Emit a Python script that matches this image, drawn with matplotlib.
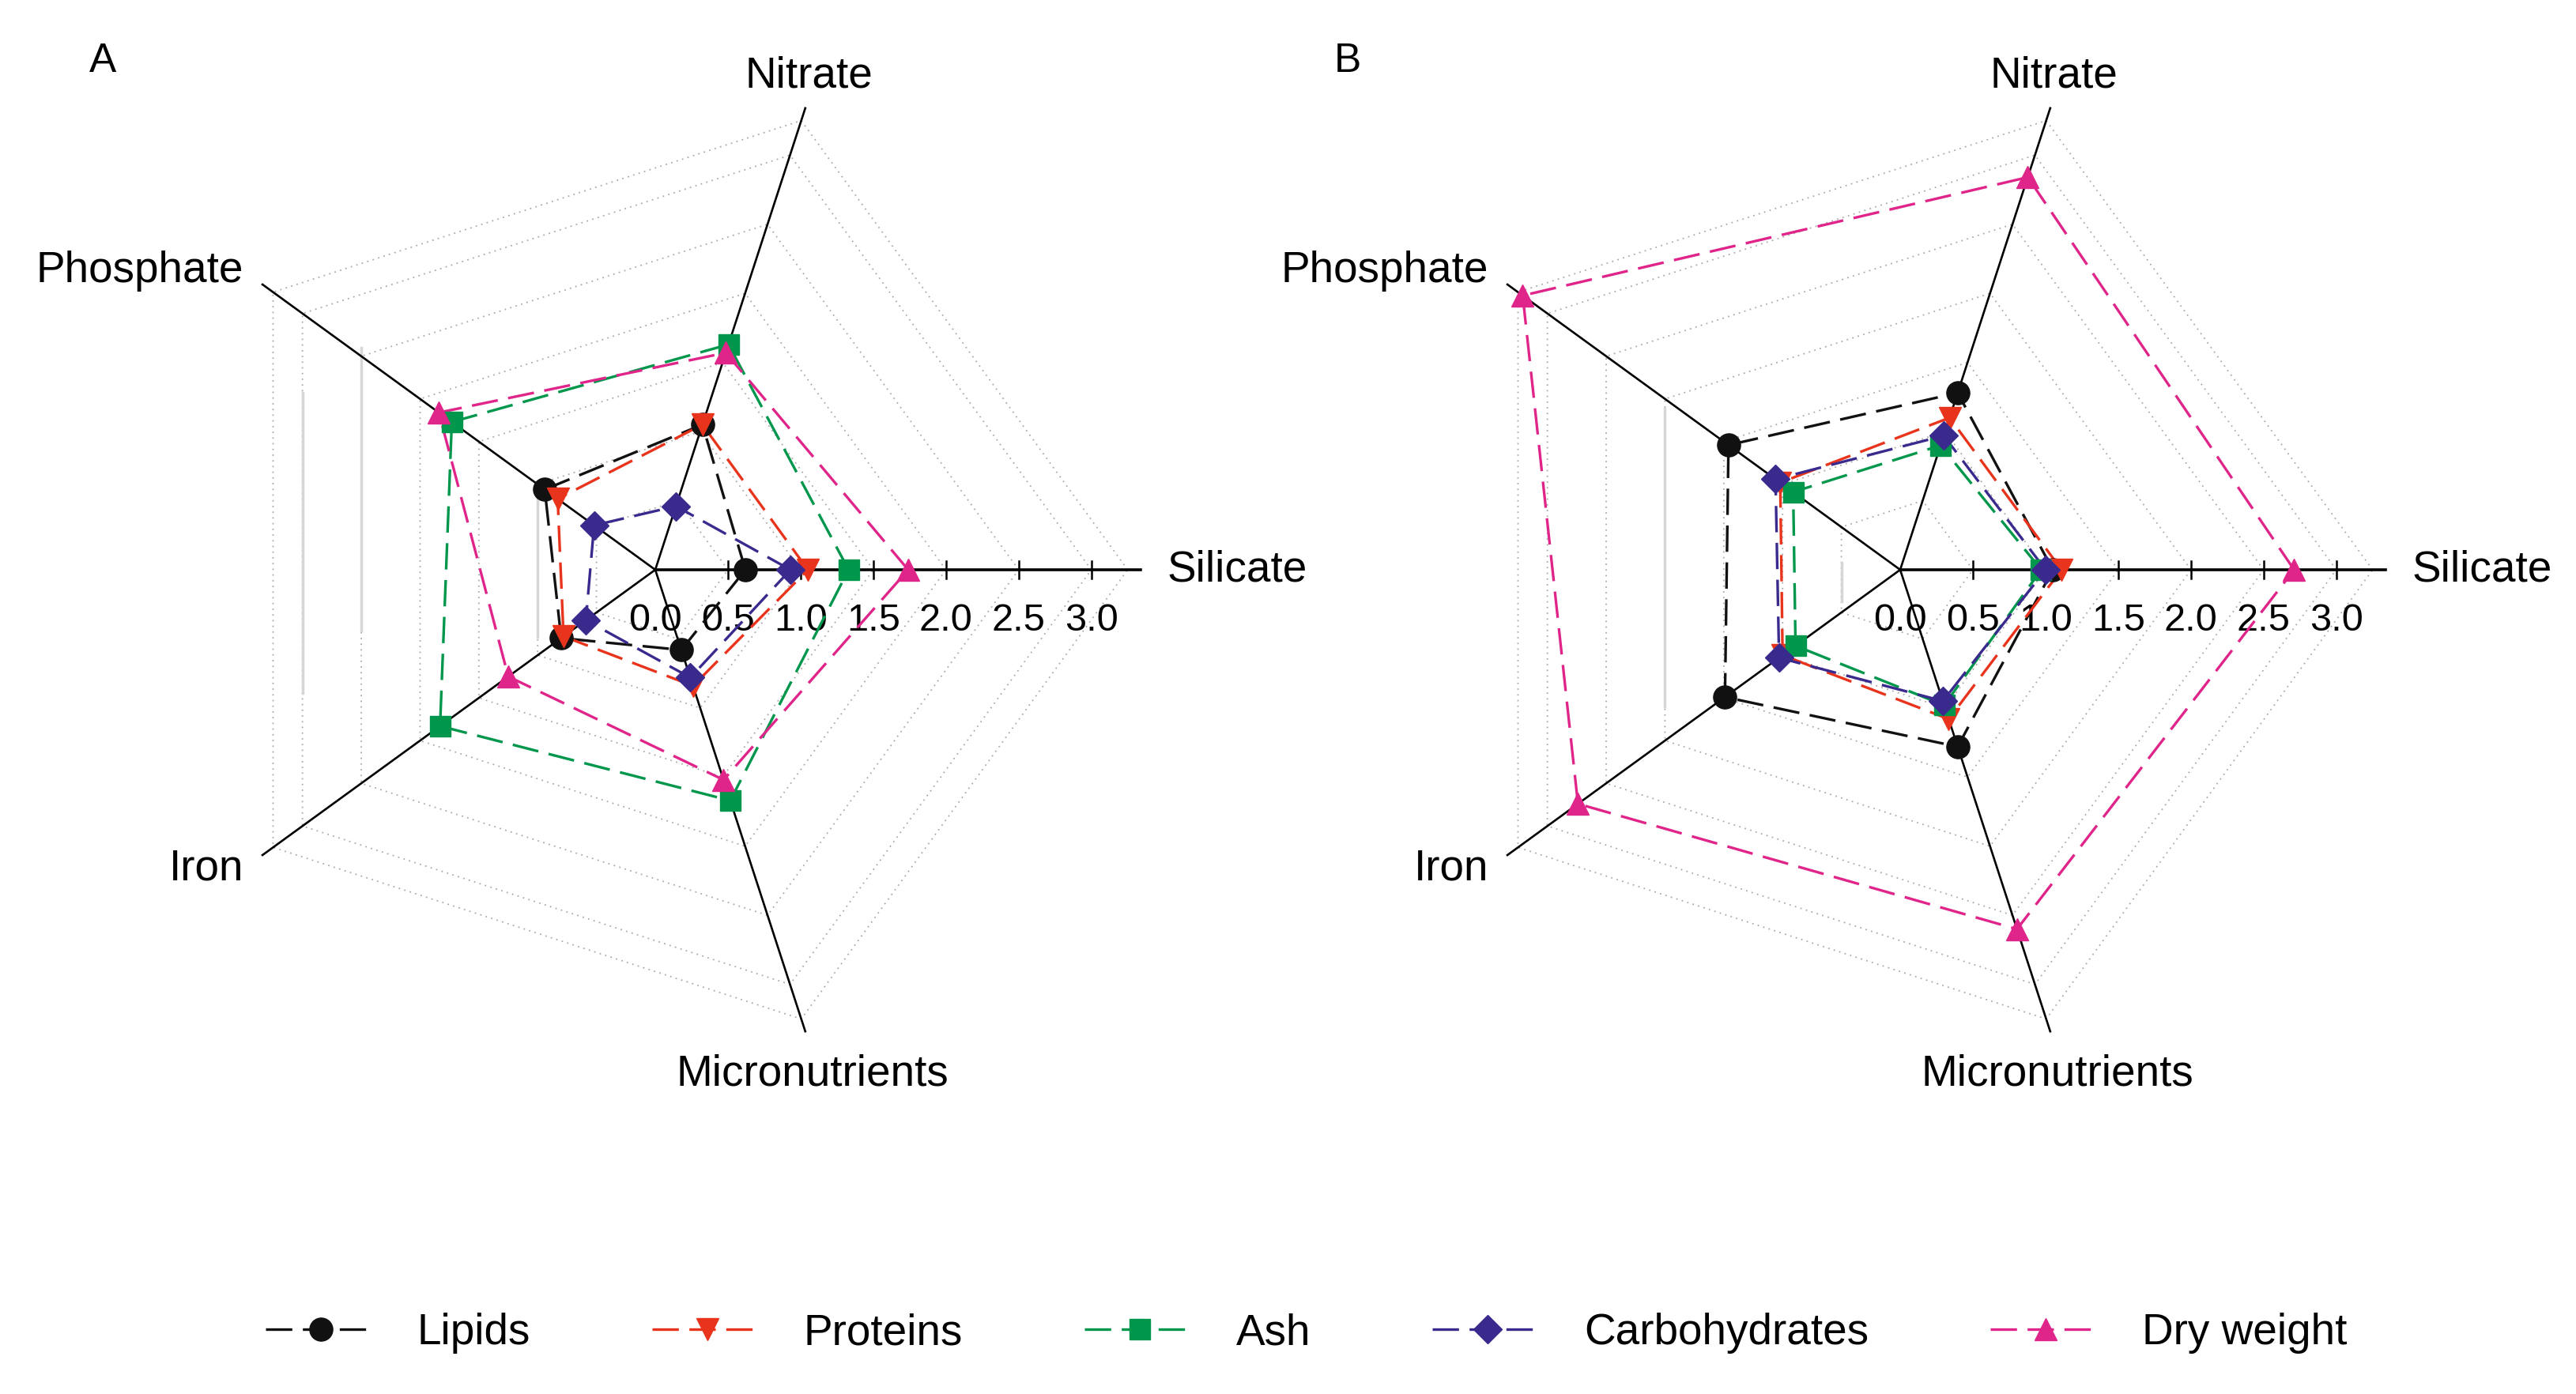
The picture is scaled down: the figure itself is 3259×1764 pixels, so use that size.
import numpy as np
import matplotlib
matplotlib.use("Agg")
import matplotlib.pyplot as plt
from matplotlib.lines import Line2D

plt.rcParams['font.family'] = ['Liberation Sans', 'DejaVu Sans']

# axes of the radar, counter-clockwise from the right
axes_names = ['Silicate', 'Nitrate', 'Phosphate', 'Iron', 'Micronutrients']
series_names = ['Lipids', 'Proteins', 'Ash', 'Carbohydrates', 'Dry weight']
tick_values = [0.0, 0.5, 1.0, 1.5, 2.0, 2.5, 3.0]
ring_values = [0.5, 1.0, 1.5, 2.0, 2.5, 3.0, 3.25]

# panel A values (Silicate, Nitrate, Phosphate, Iron, Micronutrients)
lipids_a = [0.62, 1.05, 0.94, 0.80, 0.58]
proteins_a = [1.05, 1.05, 0.83, 0.78, 0.84]
ash_a = [1.33, 1.63, 1.73, 1.83, 1.67]
carbs_a = [0.93, 0.46, 0.52, 0.59, 0.78]
dry_a = [1.74, 1.57, 1.84, 1.25, 1.52]

# panel B values
lipids_b = [1.05, 1.28, 1.46, 1.49, 1.28]
proteins_b = [1.11, 1.10, 1.02, 1.00, 1.08]
ash_b = [0.97, 0.90, 0.91, 0.89, 0.98]
carbs_b = [1.00, 0.97, 1.06, 1.03, 0.95]
dry_b = [2.71, 2.84, 3.21, 2.74, 2.60]

colors = ['#111111', '#e8341c', '#00964b', '#3b2a8e', '#e0258a']
markers = ['o', 'v', 's', 'D', '^']
msizes = [21, 20, 19, 18, 20]
dash = (0, (10, 4))
FS = 39.5

angles = np.deg2rad(np.arange(5) * 72.0)
U = 183.9  # pixels per unit
FW, FH = 3259, 1764

fig = plt.figure(figsize=(FW / 100, FH / 100), dpi=100)


def make_ax(left_px, width_px, cx, cy):
    ax = fig.add_axes([left_px / FW, 0, width_px / FW, 1])
    ax.set_xlim((left_px - cx) / U, (left_px + width_px - cx) / U)
    ax.set_ylim(-(FH - cy) / U, cy / U)
    ax.axis('off')
    return ax


def draw_radar(ax, data, letter, faint_edges):
    # dotted pentagon grid
    for r in ring_values:
        xs = r * np.cos(np.append(angles, angles[0]))
        ys = r * np.sin(np.append(angles, angles[0]))
        ax.plot(xs, ys, color='#aaaaaa', lw=1.3, ls=(0, (1, 3)), zorder=1)
    # faint solid left edges (scan artefacts in the original)
    for r, y0, y1 in faint_edges:
        ax.plot([r * np.cos(angles[2])] * 2, [y0, y1], color='#d6d6d6', lw=2.5, zorder=1)
    # spokes
    for i, a in enumerate(angles):
        lw = 2.6 if i == 0 else 1.9
        ax.plot([0, 3.34 * np.cos(a)], [0, 3.34 * np.sin(a)], color='black', lw=lw, zorder=2)
    # ticks on silicate axis
    for t in tick_values[1:]:
        ax.plot([t, t], [-0.06, 0.06], color='black', lw=1.8, zorder=2)
    for t in tick_values:
        ax.text(t, -0.35, f'{t:.1f}', ha='center', va='center', fontsize=35)
    # series
    for vals, c, m, ms in zip(data, colors, markers, msizes):
        xs = np.array(vals) * np.cos(angles)
        ys = np.array(vals) * np.sin(angles)
        ax.plot(np.append(xs, xs[0]), np.append(ys, ys[0]), color=c, lw=2.4,
                ls=dash, zorder=3)
        ax.plot(xs, ys, ls='none', marker=m, color=c, ms=ms, zorder=4)
    # axis labels
    r = 3.5
    ax.text(r * np.cos(angles[0]) + 0.02, 0, axes_names[0], ha='left', va='center', fontsize=FS)
    ax.text(3.42 * np.cos(angles[1]), 3.42 * np.sin(angles[1]), axes_names[1],
            ha='center', va='bottom', fontsize=FS)
    ax.text(r * np.cos(angles[2]), r * np.sin(angles[2]), axes_names[2],
            ha='right', va='center', fontsize=FS)
    ax.text(r * np.cos(angles[3]), r * np.sin(angles[3]), axes_names[3],
            ha='right', va='center', fontsize=FS)
    ax.text(r * np.cos(angles[4]), r * np.sin(angles[4]), axes_names[4],
            ha='center', va='top', fontsize=FS)
    ax.text(-3.80, 3.50, letter, ha='center', va='center', fontsize=37)


ax_a = make_ax(0, 1600, 829, 721)
draw_radar(ax_a, [lipids_a, proteins_a, ash_a, carbs_a, dry_a], 'A',
           [(3.0, -0.85, 1.22), (2.5, -0.42, 1.53), (1.0, -0.46, 0.55)])

ax_b = make_ax(1600, 1659, 2404, 721)
draw_radar(ax_b, [lipids_b, proteins_b, ash_b, carbs_b, dry_b], 'B',
           [(2.0, -0.94, 1.11), (0.5, -0.22, 0.05)])

handles = [Line2D([0], [0], color=c, lw=2.4, ls=dash, marker=m, ms=ms)
           for c, m, ms in zip(colors, markers, msizes)]
fig.legend(handles, series_names, loc='center', bbox_to_anchor=(0.507, 1 - 1687 / FH),
           ncol=5, frameon=False, fontsize=FS, handlelength=2.55, handletextpad=0.95,
           columnspacing=2.8)

fig.savefig('out.png', dpi=100)
